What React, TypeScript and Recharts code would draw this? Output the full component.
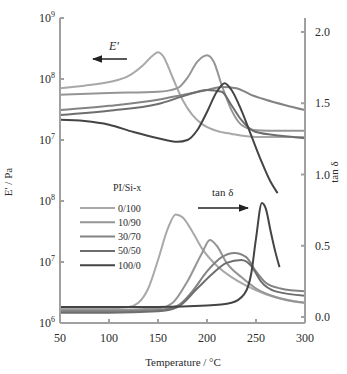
import { LineChart, Line, XAxis, YAxis } from 'recharts';

// temperature (°C) vs log10(E' / Pa), upper panel
const modulus0 = [[50, 7.85], [75, 7.89], [100, 7.95], [120, 8.05], [135, 8.23], [145, 8.39], [150, 8.44], [155, 8.38], [165, 8.02], [175, 7.66], [185, 7.41], [195, 7.26], [210, 7.15], [225, 7.1], [250, 7.05], [275, 7.05], [300, 7.05]];
const modulus10 = [[50, 7.74], [100, 7.77], [150, 7.79], [170, 7.85], [180, 8.02], [190, 8.28], [200, 8.39], [207, 8.28], [215, 7.9], [225, 7.49], [235, 7.25], [250, 7.16], [275, 7.15], [300, 7.15]];
const modulus30 = [[50, 7.49], [100, 7.56], [150, 7.66], [175, 7.74], [200, 7.82], [215, 7.87], [230, 7.85], [245, 7.74], [260, 7.66], [280, 7.57], [300, 7.49]];
const modulus50 = [[50, 7.41], [100, 7.48], [150, 7.59], [180, 7.74], [200, 7.82], [215, 7.79], [225, 7.57], [235, 7.33], [250, 7.13], [275, 7.07], [300, 7.03]];
const modulus100 = [[50, 7.33], [75, 7.31], [100, 7.25], [125, 7.13], [150, 7.03], [170, 6.97], [180, 7.0], [190, 7.16], [200, 7.46], [210, 7.79], [218, 7.93], [225, 7.82], [235, 7.49], [245, 7.08], [255, 6.67], [265, 6.31], [272, 6.13]];

// temperature (°C) vs tan δ, lower panel
const tand0 = [[50, 0.06], [100, 0.06], [120, 0.07], [130, 0.1], [140, 0.2], [150, 0.4], [160, 0.62], [168, 0.72], [175, 0.7], [185, 0.6], [195, 0.48], [210, 0.36], [225, 0.28], [240, 0.22], [260, 0.16], [280, 0.12], [300, 0.1]];
const tand10 = [[50, 0.05], [100, 0.05], [150, 0.06], [165, 0.1], [180, 0.25], [195, 0.45], [203, 0.54], [210, 0.5], [220, 0.38], [235, 0.28], [250, 0.2], [270, 0.14], [300, 0.1]];
const tand30 = [[50, 0.04], [100, 0.04], [150, 0.05], [170, 0.08], [185, 0.18], [200, 0.32], [215, 0.42], [228, 0.45], [240, 0.42], [250, 0.32], [260, 0.24], [275, 0.2], [300, 0.18]];
const tand50 = [[50, 0.03], [100, 0.03], [150, 0.04], [170, 0.07], [190, 0.2], [205, 0.3], [220, 0.38], [235, 0.4], [245, 0.36], [255, 0.25], [270, 0.18], [300, 0.15]];
const tand100 = [[50, 0.07], [100, 0.07], [150, 0.07], [200, 0.08], [225, 0.1], [238, 0.16], [245, 0.3], [250, 0.55], [256, 0.8], [260, 0.76], [265, 0.6], [270, 0.45], [274, 0.35]];

const sampleNames = ['0/100', '10/90', '30/70', '50/50', '100/0'];
const sampleColors = ['#a8a8a8', '#959595', '#838383', '#6e6e6e', '#444444'];
const modulusSets = [modulus0, modulus10, modulus30, modulus50, modulus100];
const tandSets = [tand0, tand10, tand30, tand50, tand100];

const tempTicks = [50, 100, 150, 200, 250, 300];
const tandTicks = [0, 0.5, 1, 1.5, 2];
// left axis is split: two panels sharing one frame
const decadeTicks = [0, 1, 2, 3, 4, 5];
const decadeExponents = ['6', '7', '8', '7', '8', '9'];

const FONT = '"Liberation Serif", "DejaVu Serif", serif';
const TEXT = '#2a2a2a';

const toPoints = (pairs: number[][]) => pairs.map(([t, v]) => ({ t, v }));

function DecadeTick({ x, y, payload }: any) {
  const exp = decadeExponents[payload.value];
  return (
    <text x={x} y={y} dy={4} textAnchor="end" fontSize={12} fill={TEXT} fontFamily={FONT}>
      10<tspan dy={-5} fontSize={8}>{exp}</tspan>
    </text>
  );
}

export default function App() {
  const axisStroke = '#a0a0a0';
  const tickStyle = { fontSize: 12, fill: TEXT, fontFamily: FONT };

  return (
    <div style={{ position: 'absolute', left: 0, top: 0, width: 347, height: 374, background: '#fff' }}>
      <LineChart width={347} height={374} margin={{ top: 18, right: 0, bottom: 0, left: 0 }}>
        <XAxis
          type="number" dataKey="t" domain={[50, 300]} ticks={tempTicks}
          height={51} tick={tickStyle} tickSize={-4} tickMargin={14}
          stroke={axisStroke} strokeWidth={2} allowDataOverflow
        />
        <XAxis xAxisId="top" orientation="top" type="number" domain={[50, 300]} height={0} tick={false} tickLine={false} stroke={axisStroke} strokeWidth={2} />
        <YAxis
          yAxisId="left" type="number" domain={[0, 5]} ticks={decadeTicks} width={60}
          tick={<DecadeTick />} tickSize={-4} tickMargin={9}
          stroke={axisStroke} strokeWidth={2} allowDataOverflow
        />
        <YAxis
          yAxisId="right" orientation="right" type="number" domain={[-0.042, 2.098]} ticks={tandTicks} width={42}
          tick={tickStyle} tickFormatter={(v: number) => v.toFixed(1)} tickSize={-4} tickMargin={14}
          stroke={axisStroke} strokeWidth={2} allowDataOverflow
        />
        {modulusSets.map((set, i) => (
          <Line
            key={`e-${i}`} yAxisId="left" data={toPoints(set)} dataKey={(d: any) => d.v - 4}
            type="monotone" stroke={sampleColors[i]} strokeWidth={2} dot={false} isAnimationActive={false}
          />
        ))}
        {tandSets.map((set, i) => (
          <Line
            key={`t-${i}`} yAxisId="right" data={toPoints(set)} dataKey="v"
            type="monotone" stroke={sampleColors[i]} strokeWidth={2} dot={false} isAnimationActive={false}
          />
        ))}
      </LineChart>

      <svg width={347} height={374} style={{ position: 'absolute', left: 0, top: 0, pointerEvents: 'none' }}>
        <defs>
          <marker id="head" markerWidth="8" markerHeight="6" refX="7" refY="3" orient="auto">
            <path d="M0,0 L8,3 L0,6 z" fill="#222" />
          </marker>
        </defs>
        <g fontFamily={FONT} fill={TEXT}>
          {/* axis titles */}
          <text x={12} y={182} fontSize={11} textAnchor="middle" transform="rotate(-90 12 182)">E' / Pa</text>
          <text x={338} y={172} fontSize={11} textAnchor="middle" transform="rotate(-90 338 172)">tan δ</text>
          <text x={183} y={366} fontSize={11} textAnchor="middle">Temperature / °C</text>

          {/* curve family labels */}
          <text x={109} y={50} fontSize={12} fontStyle="italic">E'</text>
          <line x1={127} y1={59} x2={93} y2={59} stroke="#222" strokeWidth={1.3} markerEnd="url(#head)" />
          <text x={212} y={196} fontSize={11}>tan δ</text>
          <line x1={198} y1={208} x2={248} y2={208} stroke="#222" strokeWidth={1.3} markerEnd="url(#head)" />

          {/* sample legend */}
          <text x={113} y={191} fontSize={10}>PI/Si-x</text>
          {sampleNames.map((name, i) => (
            <g key={name}>
              <line x1={80} x2={115} y1={208 + i * 14.3} y2={208 + i * 14.3} stroke={sampleColors[i]} strokeWidth={2} />
              <text x={118} y={211.5 + i * 14.3} fontSize={10}>{name}</text>
            </g>
          ))}
        </g>
      </svg>
    </div>
  );
}
